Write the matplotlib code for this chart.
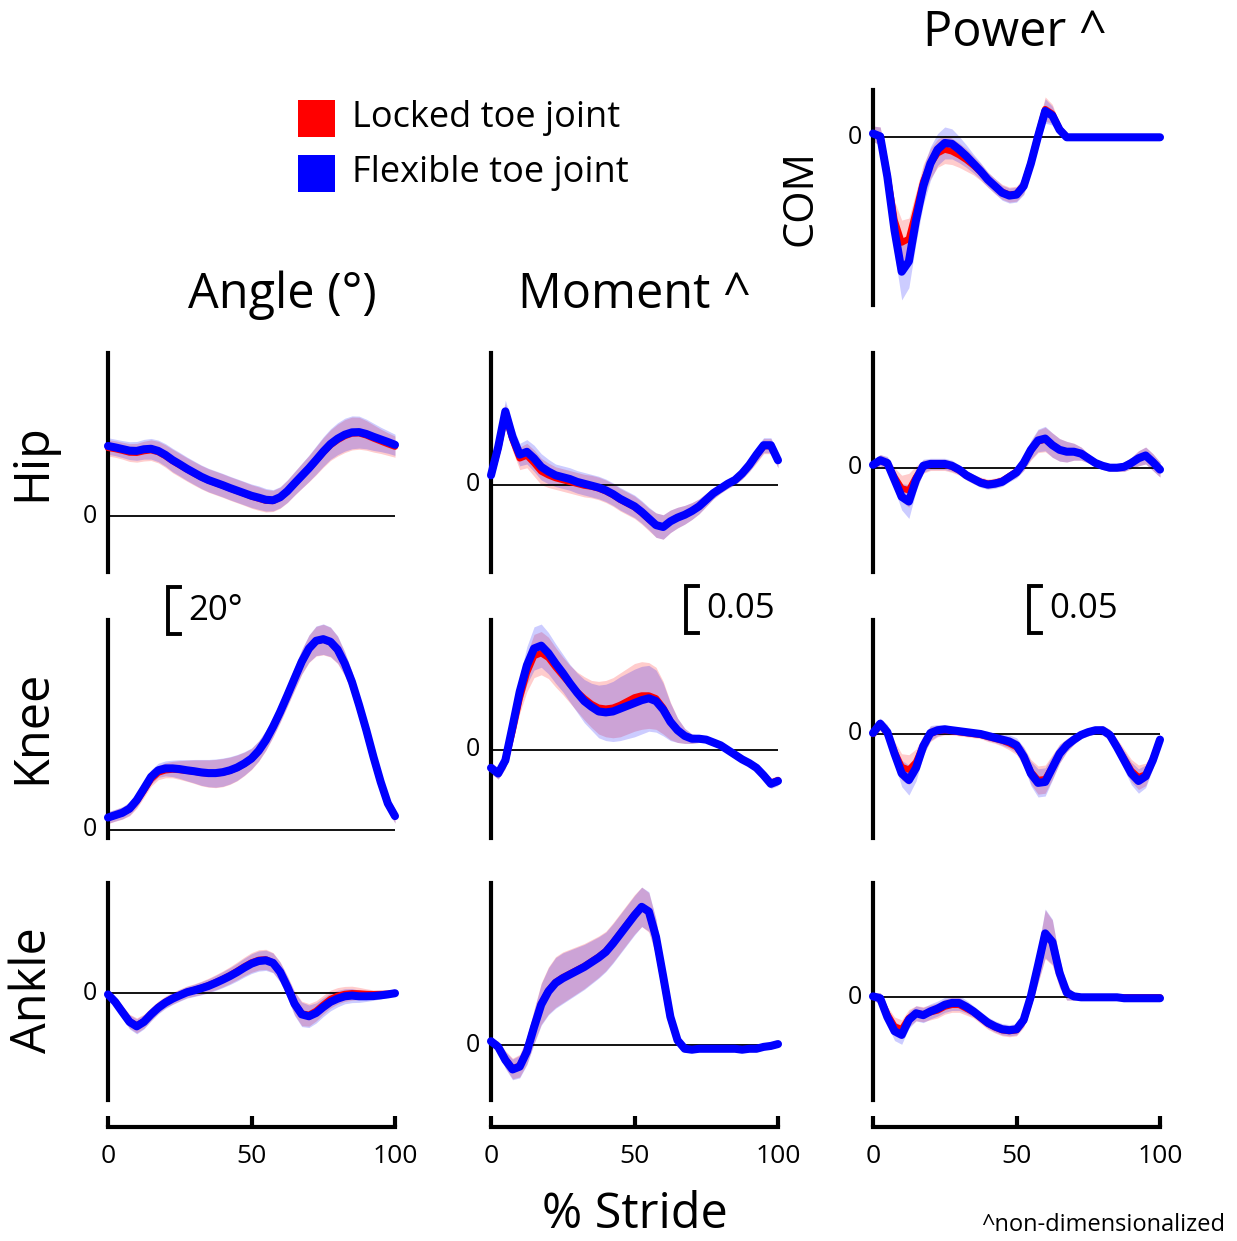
import numpy as np
import matplotlib
matplotlib.use("Agg")
import matplotlib.pyplot as plt
from matplotlib.patches import Rectangle

plt.rcParams['font.family'] = ['Open Sans', 'DejaVu Sans']

# ---------------------------------------------------------------- data
stride = np.arange(0, 100.1, 2.5)          # % stride sample grid (41 points)

# joint angles (degrees)
hip_angle_locked = [29.0, 28.5, 27.8, 27.0, 26.9, 27.6, 28.0, 27.2, 25.5, 23.4, 21.6, 19.8, 18.1, 16.5,
                    15.1, 14.0, 12.9, 11.7, 10.6, 9.5, 8.3, 7.4, 6.5, 6.4, 7.8, 10.5, 13.8, 17.0, 20.1,
                    23.5, 27.0, 30.1, 32.3, 34.0, 35.1, 35.2, 34.3, 33.0, 31.8, 30.6, 29.5]
hip_angle_flex = [29.8, 29.2, 28.5, 27.8, 27.7, 28.4, 28.6, 27.7, 26.0, 23.8, 22.0, 20.1, 18.4, 16.7,
                  15.3, 14.2, 13.1, 11.9, 10.8, 9.7, 8.6, 7.8, 6.9, 6.7, 8.0, 10.6, 13.9, 17.1, 20.3,
                  23.8, 27.4, 30.6, 32.9, 34.6, 35.6, 35.7, 34.9, 33.7, 32.6, 31.5, 30.3]
hip_angle_sd = [3.5, 3.5, 3.6, 3.8, 4.0, 4.2, 4.4, 4.6, 4.8, 5.0, 5.0, 5.0, 5.0, 5.0, 5.0, 5.0, 5.0,
                5.0, 5.0, 5.0, 5.0, 5.0, 4.8, 4.5, 4.5, 4.8, 5.0, 5.3, 5.6, 6.0, 6.3, 6.5, 6.8, 7.0,
                7.0, 6.8, 6.3, 5.8, 5.2, 4.8, 4.5]

knee_angle_locked = [5.0, 6.0, 7.0, 8.6, 12.0, 16.6, 21.4, 24.2, 25.2, 25.5, 25.3, 25.0, 24.6, 24.1,
                     23.8, 23.8, 24.2, 25.0, 26.2, 27.9, 30.0, 33.3, 37.8, 43.5, 49.9, 56.9, 64.1,
                     71.2, 76.8, 80.1, 80.8, 79.7, 76.4, 70.4, 62.6, 52.7, 42.1, 30.7, 20.1, 11.0, 5.7]
knee_angle_flex = [5.1, 6.1, 7.1, 8.9, 12.5, 17.4, 22.4, 25.2, 26.0, 26.0, 25.7, 25.2, 24.8, 24.3,
                   24.0, 24.0, 24.4, 25.2, 26.4, 28.1, 30.2, 33.5, 38.0, 43.7, 50.1, 57.1, 64.3, 71.4,
                   77.0, 80.3, 81.0, 79.9, 76.6, 70.6, 62.8, 52.9, 42.3, 30.9, 20.3, 11.1, 5.7]
knee_angle_sd = [2.5, 2.5, 2.6, 2.8, 3.0, 3.0, 3.0, 3.0, 3.2, 3.5, 4.0, 4.5, 5.0, 5.5, 5.8, 6.0, 6.0,
                 5.8, 5.5, 5.0, 4.5, 4.3, 4.2, 4.2, 4.3, 4.5, 4.8, 5.2, 5.8, 6.3, 6.5, 6.3, 5.8, 5.0,
                 4.5, 4.2, 4.0, 3.8, 3.5, 3.2, 3.0]

ankle_angle_locked = [-0.5, -3.6, -7.8, -12.0, -13.8, -12.0, -8.9, -6.0, -3.8, -2.2, -0.8, 0.5, 1.3,
                      2.2, 3.3, 4.6, 6.0, 7.6, 9.4, 11.3, 13.0, 14.1, 14.3, 13.0, 9.0, 2.8, -4.3, -8.7,
                      -9.3, -7.6, -5.0, -2.6, -1.2, -0.4, -0.1, -0.2, -0.4, -0.5, -0.4, -0.3, 0.0]
ankle_angle_flex = [-0.6, -3.8, -8.1, -12.3, -14.2, -12.3, -9.1, -6.3, -4.1, -2.4, -1.0, 0.3, 1.1,
                    2.0, 3.0, 4.3, 5.7, 7.2, 8.9, 10.8, 12.5, 13.6, 13.9, 12.8, 8.9, 2.6, -4.6, -9.1,
                    -9.9, -8.5, -6.0, -3.8, -2.4, -1.4, -1.1, -1.4, -1.4, -1.3, -1.0, -0.6, -0.1]
ankle_angle_sd = [1.5, 2.0, 2.5, 3.0, 3.2, 3.0, 2.8, 2.6, 2.5, 2.5, 2.5, 2.5, 2.6, 2.8, 3.0, 3.2,
                  3.4, 3.6, 3.8, 4.0, 4.2, 4.3, 4.3, 4.2, 4.2, 4.5, 5.0, 5.2, 4.8, 4.3, 4.0, 3.8, 3.5,
                  3.2, 3.0, 2.6, 2.2, 1.8, 1.5, 1.2, 1.0]

# joint moments (non-dimensional)
hip_moment_locked = [0.010, 0.038, 0.074, 0.048, 0.028, 0.031, 0.023, 0.014, 0.010, 0.007, 0.005,
                     0.003, 0.001, -0.001, -0.002, -0.004, -0.007, -0.011, -0.016, -0.020, -0.024,
                     -0.030, -0.037, -0.043, -0.045, -0.039, -0.035, -0.032, -0.028, -0.023, -0.016,
                     -0.009, -0.004, 0.001, 0.005, 0.012, 0.021, 0.031, 0.041, 0.041, 0.026]
hip_moment_flex = [0.010, 0.040, 0.078, 0.051, 0.032, 0.035, 0.028, 0.019, 0.014, 0.010, 0.008,
                   0.006, 0.003, 0.001, -0.001, -0.003, -0.006, -0.010, -0.015, -0.019, -0.023,
                   -0.029, -0.036, -0.043, -0.045, -0.039, -0.035, -0.032, -0.028, -0.023, -0.016,
                   -0.009, -0.004, 0.001, 0.005, 0.012, 0.021, 0.032, 0.042, 0.042, 0.026]
hip_moment_sd = [0.008, 0.010, 0.012, 0.012, 0.012, 0.013, 0.014, 0.014, 0.013, 0.012, 0.012, 0.012,
                 0.012, 0.012, 0.012, 0.012, 0.012, 0.012, 0.012, 0.012, 0.012, 0.012, 0.012, 0.013,
                 0.013, 0.012, 0.011, 0.010, 0.009, 0.008, 0.007, 0.006, 0.005, 0.005, 0.005, 0.006,
                 0.007, 0.008, 0.008, 0.008, 0.008]

knee_moment_locked = [-0.019, -0.025, -0.012, 0.020, 0.055, 0.082, 0.100, 0.103, 0.098, 0.088, 0.079,
                      0.070, 0.062, 0.055, 0.049, 0.045, 0.044, 0.045, 0.048, 0.052, 0.056, 0.058,
                      0.058, 0.055, 0.045, 0.031, 0.021, 0.015, 0.012, 0.012, 0.011, 0.008, 0.005,
                      0.000, -0.005, -0.010, -0.014, -0.019, -0.027, -0.035, -0.032]
knee_moment_flex = [-0.019, -0.025, -0.011, 0.025, 0.062, 0.090, 0.108, 0.111, 0.103, 0.092, 0.082,
                    0.071, 0.061, 0.052, 0.046, 0.041, 0.040, 0.041, 0.044, 0.047, 0.050, 0.053, 0.055,
                    0.052, 0.043, 0.030, 0.021, 0.015, 0.012, 0.012, 0.011, 0.008, 0.005, 0.000,
                    -0.005, -0.010, -0.014, -0.019, -0.027, -0.036, -0.033]
knee_moment_sd = [0.006, 0.006, 0.008, 0.012, 0.016, 0.020, 0.023, 0.023, 0.022, 0.021, 0.020, 0.020,
                  0.021, 0.023, 0.025, 0.028, 0.030, 0.032, 0.034, 0.035, 0.036, 0.036, 0.035, 0.033,
                  0.028, 0.020, 0.013, 0.008, 0.005, 0.004, 0.003, 0.003, 0.003, 0.003, 0.003, 0.003,
                  0.003, 0.003, 0.004, 0.005, 0.005]

ankle_moment_locked = [0.004, -0.002, -0.015, -0.025, -0.022, -0.006, 0.020, 0.044, 0.058, 0.067,
                       0.072, 0.076, 0.080, 0.084, 0.089, 0.094, 0.100, 0.109, 0.119, 0.129, 0.139,
                       0.147, 0.141, 0.114, 0.072, 0.029, 0.005, -0.004, -0.005, -0.004, -0.004,
                       -0.004, -0.004, -0.004, -0.004, -0.005, -0.004, -0.004, -0.002, -0.001, 0.001]
ankle_moment_flex = [0.004, -0.002, -0.016, -0.026, -0.023, -0.007, 0.019, 0.043, 0.057, 0.066,
                     0.071, 0.075, 0.079, 0.083, 0.088, 0.093, 0.099, 0.108, 0.118, 0.128, 0.138,
                     0.147, 0.142, 0.115, 0.073, 0.030, 0.005, -0.004, -0.005, -0.004, -0.004,
                     -0.004, -0.004, -0.004, -0.004, -0.005, -0.004, -0.004, -0.002, -0.001, 0.001]
ankle_moment_sd = [0.004, 0.006, 0.009, 0.011, 0.012, 0.014, 0.018, 0.022, 0.025, 0.027, 0.027,
                   0.026, 0.025, 0.024, 0.023, 0.022, 0.021, 0.021, 0.021, 0.021, 0.021, 0.021,
                   0.021, 0.019, 0.014, 0.008, 0.004, 0.003, 0.003, 0.003, 0.003, 0.003, 0.003,
                   0.003, 0.003, 0.003, 0.003, 0.003, 0.003, 0.003, 0.003]

# powers (non-dimensional)
com_power_locked = [0.004, 0.001, -0.040, -0.088, -0.112, -0.108, -0.078, -0.047, -0.028, -0.017,
                    -0.013, -0.015, -0.019, -0.024, -0.030, -0.037, -0.045, -0.052, -0.058, -0.061,
                    -0.060, -0.051, -0.027, 0.002, 0.030, 0.025, 0.009, 0.000, 0.000, 0.000, 0.000,
                    0.000, 0.000, 0.000, 0.000, 0.000, 0.000, 0.000, 0.000, 0.000, 0.000]
com_power_flex = [0.004, 0.001, -0.042, -0.099, -0.143, -0.132, -0.088, -0.052, -0.028, -0.013,
                  -0.006, -0.007, -0.013, -0.020, -0.028, -0.036, -0.045, -0.052, -0.059, -0.062,
                  -0.061, -0.052, -0.028, 0.001, 0.028, 0.023, 0.008, 0.000, 0.000, 0.000, 0.000,
                  0.000, 0.000, 0.000, 0.000, 0.000, 0.000, 0.000, 0.000, 0.000, 0.000]
com_power_sd_locked = [0.008, 0.010, 0.014, 0.020, 0.024, 0.022, 0.020, 0.018, 0.016, 0.015, 0.015,
                       0.014, 0.013, 0.012, 0.010, 0.009, 0.008, 0.008, 0.008, 0.008, 0.008, 0.009,
                       0.010, 0.012, 0.013, 0.010, 0.005, 0.002, 0.002, 0.002, 0.002, 0.002, 0.002,
                       0.002, 0.002, 0.002, 0.002, 0.002, 0.002, 0.002, 0.002]
com_power_sd_flex = [0.008, 0.010, 0.015, 0.025, 0.030, 0.028, 0.024, 0.020, 0.018, 0.017, 0.017,
                     0.016, 0.014, 0.012, 0.010, 0.009, 0.008, 0.008, 0.008, 0.008, 0.008, 0.009,
                     0.010, 0.012, 0.013, 0.010, 0.005, 0.002, 0.002, 0.002, 0.002, 0.002, 0.002,
                     0.002, 0.002, 0.002, 0.002, 0.002, 0.002, 0.002, 0.002]

hip_power_locked = [0.003, 0.008, 0.004, -0.010, -0.022, -0.024, -0.010, 0.001, 0.003, 0.003, 0.003,
                    0.001, -0.003, -0.008, -0.012, -0.015, -0.017, -0.016, -0.014, -0.009, -0.004,
                    0.005, 0.018, 0.028, 0.030, 0.024, 0.019, 0.017, 0.017, 0.015, 0.010, 0.005,
                    0.002, 0.000, 0.000, 0.001, 0.005, 0.010, 0.013, 0.006, -0.002]
hip_power_flex = [0.003, 0.008, 0.005, -0.013, -0.031, -0.036, -0.013, 0.002, 0.004, 0.004, 0.004,
                  0.002, -0.002, -0.008, -0.012, -0.016, -0.018, -0.017, -0.015, -0.010, -0.005,
                  0.005, 0.019, 0.029, 0.031, 0.024, 0.019, 0.017, 0.017, 0.015, 0.010, 0.005, 0.002,
                  0.000, 0.000, 0.001, 0.005, 0.010, 0.013, 0.006, -0.002]
hip_power_sd = [0.005, 0.006, 0.007, 0.010, 0.014, 0.018, 0.012, 0.007, 0.006, 0.006, 0.006, 0.006,
                0.005, 0.005, 0.005, 0.005, 0.005, 0.005, 0.005, 0.005, 0.006, 0.008, 0.010, 0.012,
                0.013, 0.013, 0.012, 0.011, 0.009, 0.007, 0.005, 0.004, 0.004, 0.004, 0.004, 0.005,
                0.006, 0.008, 0.009, 0.009, 0.008]

knee_power_locked = [0.000, 0.010, 0.001, -0.019, -0.035, -0.038, -0.030, -0.012, 0.000, 0.003,
                     0.004, 0.003, 0.002, 0.001, 0.000, -0.001, -0.003, -0.005, -0.007, -0.010,
                     -0.014, -0.024, -0.040, -0.049, -0.048, -0.035, -0.021, -0.012, -0.006, -0.001,
                     0.002, 0.004, 0.004, -0.001, -0.013, -0.026, -0.039, -0.046, -0.043, -0.027,
                     -0.006]
knee_power_flex = [0.001, 0.011, 0.002, -0.021, -0.042, -0.049, -0.036, -0.013, 0.001, 0.004, 0.005,
                   0.004, 0.003, 0.002, 0.001, 0.000, -0.002, -0.004, -0.006, -0.008, -0.012, -0.024,
                   -0.042, -0.052, -0.051, -0.036, -0.021, -0.012, -0.006, -0.001, 0.002, 0.004,
                   0.004, -0.001, -0.014, -0.028, -0.042, -0.050, -0.045, -0.028, -0.006]
knee_power_sd = [0.005, 0.006, 0.008, 0.011, 0.014, 0.016, 0.014, 0.010, 0.008, 0.006, 0.005, 0.004,
                 0.004, 0.004, 0.004, 0.004, 0.005, 0.005, 0.006, 0.007, 0.008, 0.010, 0.013, 0.015,
                 0.015, 0.013, 0.010, 0.007, 0.005, 0.004, 0.004, 0.004, 0.005, 0.006, 0.008, 0.010,
                 0.012, 0.013, 0.012, 0.009, 0.006]

ankle_power_locked = [0.001, -0.001, -0.018, -0.031, -0.034, -0.022, -0.017, -0.018, -0.016, -0.014,
                      -0.010, -0.008, -0.008, -0.012, -0.016, -0.022, -0.028, -0.032, -0.035, -0.036,
                      -0.035, -0.025, 0.000, 0.033, 0.067, 0.058, 0.025, 0.005, 0.001, 0.000, 0.000,
                      0.000, 0.000, 0.000, 0.000, 0.000, 0.000, 0.000, 0.000, 0.000, 0.000]
ankle_power_flex = [0.001, -0.001, -0.021, -0.036, -0.040, -0.024, -0.017, -0.019, -0.015, -0.012,
                    -0.008, -0.006, -0.006, -0.010, -0.015, -0.021, -0.027, -0.031, -0.034, -0.035,
                    -0.034, -0.024, 0.001, 0.034, 0.068, 0.059, 0.026, 0.005, 0.001, 0.000, 0.000,
                    0.000, 0.000, 0.000, 0.000, -0.001, -0.001, -0.001, -0.001, -0.001, -0.001]
ankle_power_sd = [0.004, 0.006, 0.008, 0.010, 0.010, 0.009, 0.008, 0.008, 0.008, 0.008, 0.008, 0.008,
                  0.008, 0.007, 0.006, 0.006, 0.006, 0.006, 0.006, 0.006, 0.006, 0.007, 0.010, 0.018,
                  0.026, 0.024, 0.015, 0.008, 0.004, 0.002, 0.002, 0.002, 0.002, 0.002, 0.002, 0.002,
                  0.002, 0.002, 0.002, 0.002, 0.002]

column_titles = ["Angle (°)", "Moment ^", "Power ^"]
row_labels = ["Hip", "Knee", "Ankle"]
legend_labels = ["Locked toe joint", "Flexible toe joint"]
stride_ticks = [0, 50, 100]

# ---------------------------------------------------------------- layout
W, H = 1237, 1241
fig = plt.figure(figsize=(W / 100, H / 100), dpi=100)
fig.patch.set_facecolor("white")

LOCKED_C = "#ff0000"
FLEX_C = "#0000ff"

COL_X = [108, 491, 873]          # pixel x of each column's vertical axis
COL_W = 287                      # pixel width of 0..100 % stride
ROW_BOX = {"com": (90, 305), "hip": (353, 572), "knee": (620, 838), "ankle": (883, 1100)}
ANGLE_SCALE = 2.35               # pixels per degree
KINETIC_SCALE = 940.0            # pixels per non-dimensional unit


def fx(px):
    return px / W


def fy(py):
    return 1 - py / H


def make_panel(col, row, zero_px, scale, locked, flex, sd_locked, sd_flex):
    top, bot = ROW_BOX[row]
    ax = fig.add_axes([fx(COL_X[col]), fy(bot), COL_W / W, (bot - top) / H])
    ax.set_xlim(0, 100)
    ax.set_ylim((zero_px - bot) / scale, (zero_px - top) / scale)
    ax.patch.set_alpha(0)
    for s in ("top", "right", "bottom"):
        ax.spines[s].set_visible(False)
    ax.spines["left"].set_linewidth(3.0)
    ax.set_xticks([])
    ax.set_yticks([])

    lo, fl = np.asarray(locked), np.asarray(flex)
    sl, sf = np.asarray(sd_locked), np.asarray(sd_flex)
    ax.fill_between(stride, lo - sl, lo + sl, color=LOCKED_C, alpha=0.2, lw=0, zorder=1)
    ax.fill_between(stride, fl - sf, fl + sf, color=FLEX_C, alpha=0.2, lw=0, zorder=1.1)
    ax.plot([0, 100], [0, 0], color="black", lw=1.3, zorder=2)
    ax.plot(stride, lo, color=LOCKED_C, lw=4.6, zorder=3,
            solid_capstyle="round", solid_joinstyle="round", clip_on=False)
    ax.plot(stride, fl, color=FLEX_C, lw=5.8, zorder=4,
            solid_capstyle="round", solid_joinstyle="round", clip_on=False)
    ax.annotate("0", xy=(0, 0), xytext=(-8, 0), textcoords="offset points",
                ha="right", va="center", fontsize=18)
    return ax


# COM power (top of the power column)
make_panel(2, "com", 137.3, KINETIC_SCALE, com_power_locked, com_power_flex,
           com_power_sd_locked, com_power_sd_flex)

# hip row
make_panel(0, "hip", 516.0, ANGLE_SCALE, hip_angle_locked, hip_angle_flex, hip_angle_sd, hip_angle_sd)
make_panel(1, "hip", 484.7, KINETIC_SCALE, hip_moment_locked, hip_moment_flex, hip_moment_sd, hip_moment_sd)
make_panel(2, "hip", 467.7, KINETIC_SCALE, hip_power_locked, hip_power_flex, hip_power_sd, hip_power_sd)

# knee row
ax_ka = make_panel(0, "knee", 829.5, ANGLE_SCALE, knee_angle_locked, knee_angle_flex,
                   knee_angle_sd, knee_angle_sd)
ax_km = make_panel(1, "knee", 750.0, KINETIC_SCALE, knee_moment_locked, knee_moment_flex,
                   knee_moment_sd, knee_moment_sd)
ax_kp = make_panel(2, "knee", 734.0, KINETIC_SCALE, knee_power_locked, knee_power_flex,
                   knee_power_sd, knee_power_sd)

# ankle row
make_panel(0, "ankle", 993.0, ANGLE_SCALE, ankle_angle_locked, ankle_angle_flex,
           ankle_angle_sd, ankle_angle_sd)
make_panel(1, "ankle", 1045.0, KINETIC_SCALE, ankle_moment_locked, ankle_moment_flex,
           ankle_moment_sd, ankle_moment_sd)
make_panel(2, "ankle", 997.3, KINETIC_SCALE, ankle_power_locked, ankle_power_flex,
           ankle_power_sd, ankle_power_sd)


# scale bars, drawn in data units of the knee panels
def scale_bar(ax, x0, y0, height, label):
    nub = 12 / COL_W * 100
    ax.plot([x0 + nub, x0, x0, x0 + nub], [y0 + height, y0 + height, y0, y0],
            color="black", lw=2.8, clip_on=False, solid_joinstyle="miter")
    ax.text(x0 + 20 / COL_W * 100, y0 + height / 2, label, ha="left", va="center",
            fontsize=25, clip_on=False)


scale_bar(ax_ka, (168 - 108) / COL_W * 100, (829.5 - 634) / ANGLE_SCALE, 20, "20°")
scale_bar(ax_km, (686 - 491) / COL_W * 100, (750 - 633) / KINETIC_SCALE, 0.05, "0.05")
scale_bar(ax_kp, (1029 - 873) / COL_W * 100, (734 - 633) / KINETIC_SCALE, 0.05, "0.05")

# % stride axes under each column
for cx in COL_X:
    axx = fig.add_axes([fx(cx), fy(1127), COL_W / W, 0.0005])
    axx.set_xlim(0, 100)
    axx.patch.set_alpha(0)
    for s in ("top", "right", "left"):
        axx.spines[s].set_visible(False)
    axx.spines["bottom"].set_linewidth(3.0)
    axx.set_yticks([])
    axx.set_xticks(stride_ticks)
    axx.set_xticklabels([str(t) for t in stride_ticks])
    axx.tick_params(axis="x", direction="in", length=8, width=3, labelsize=19, pad=12)

# titles and row labels
fig.text(fx(282), fy(295), column_titles[0], ha="center", va="center", fontsize=35)
fig.text(fx(634), fy(295), column_titles[1], ha="center", va="center", fontsize=35)
fig.text(fx(1015), fy(33), column_titles[2], ha="center", va="center", fontsize=35)
for lab, yc in zip(row_labels, [462, 727, 990]):
    fig.text(fx(33), fy(yc), lab, ha="center", va="center", rotation=90, fontsize=35)
fig.text(fx(801), fy(198), "COM", ha="center", va="center", rotation=90, fontsize=30)

fig.text(fx(635), fy(1215), "% Stride", ha="center", va="center", fontsize=35)
fig.text(fx(1225), fy(1225), "^non-dimensionalized", ha="right", va="center", fontsize=17)

# legend
for (lab, col, yc) in [(legend_labels[0], LOCKED_C, 118.5), (legend_labels[1], FLEX_C, 173)]:
    fig.add_artist(Rectangle((fx(298), fy(yc + 18.5)), 37 / W, 37 / H,
                             transform=fig.transFigure, color=col, lw=0))
    fig.text(fx(352), fy(yc), lab, ha="left", va="center", fontsize=26)

fig.savefig("out.png", dpi=100, facecolor="white")
